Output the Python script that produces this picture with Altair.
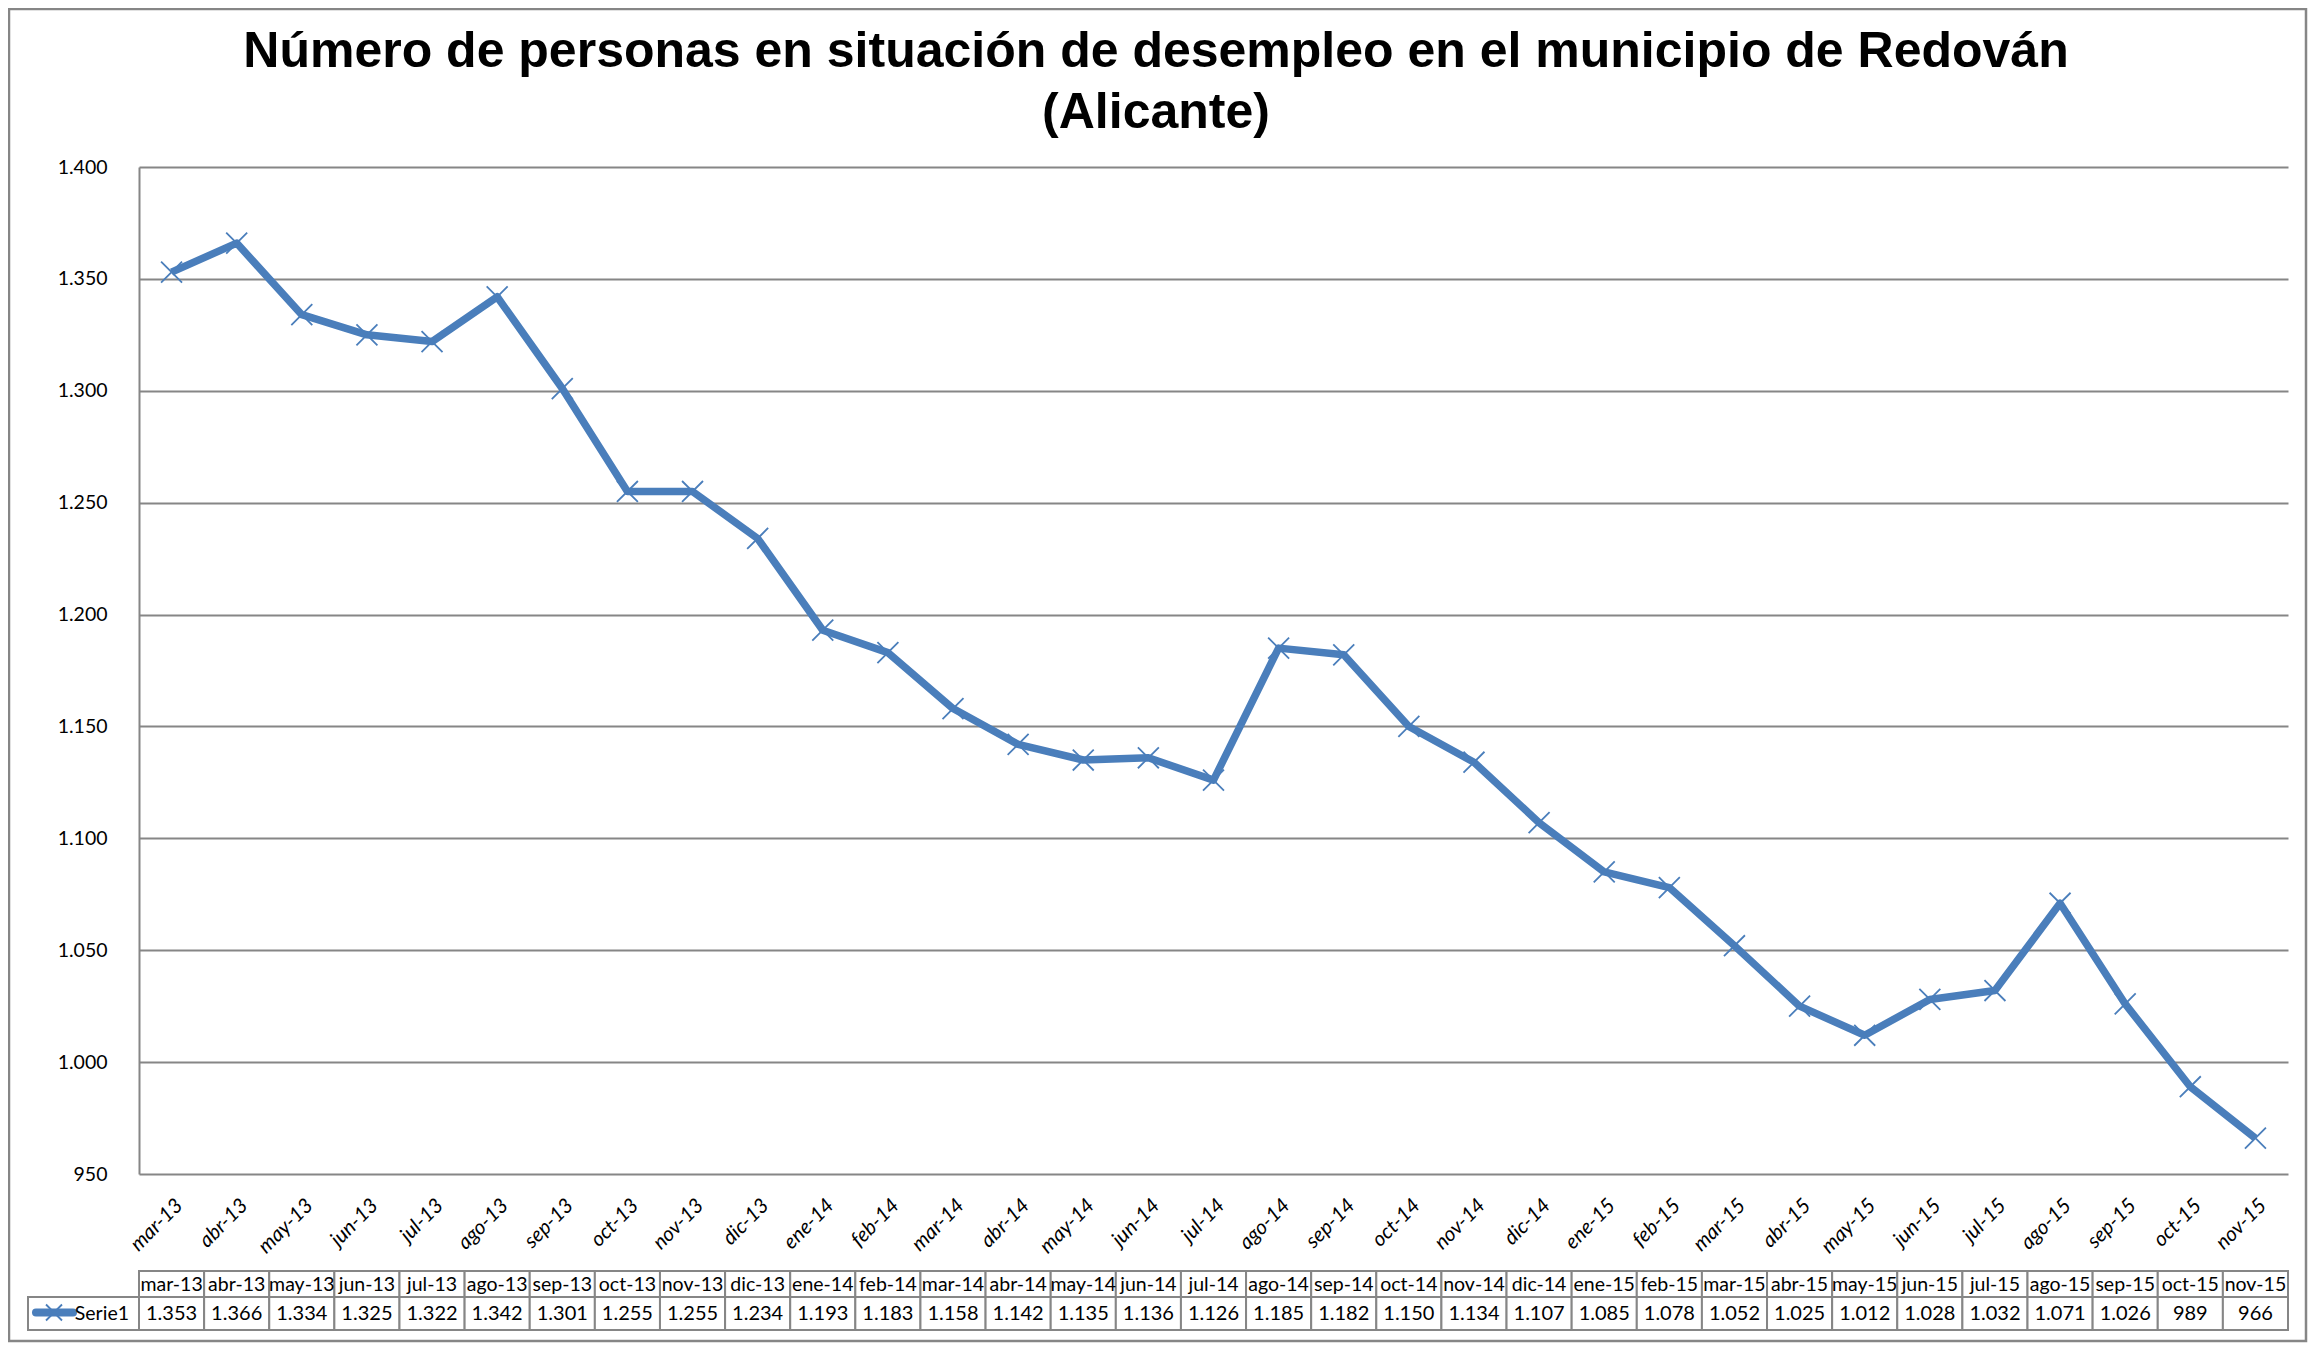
import altair as alt
import pandas as pd

months = [
    "mar-13", "abr-13", "may-13", "jun-13", "jul-13", "ago-13", "sep-13", "oct-13", "nov-13", "dic-13",
    "ene-14", "feb-14", "mar-14", "abr-14", "may-14", "jun-14", "jul-14", "ago-14", "sep-14", "oct-14",
    "nov-14", "dic-14",
    "ene-15", "feb-15", "mar-15", "abr-15", "may-15", "jun-15", "jul-15", "ago-15", "sep-15", "oct-15",
    "nov-15",
]
values = [
    1353, 1366, 1334, 1325, 1322, 1342, 1301, 1255, 1255, 1234,
    1193, 1183, 1158, 1142, 1135, 1136, 1126, 1185, 1182, 1150,
    1134, 1107,
    1085, 1078, 1052, 1025, 1012, 1028, 1032, 1071, 1026, 989,
    966,
]
y_ticks = [950, 1000, 1050, 1100, 1150, 1200, 1250, 1300, 1350, 1400]
series_name = "Serie1"
title_lines = [
    "Número de personas en situación de desempleo en el municipio de Redován",
    "(Alicante)",
]


def es_num(v):
    return f"{v:,}".replace(",", ".")


df = pd.DataFrame({"mes": months, "valor": values, "etiqueta": [es_num(v) for v in values]})
leg_df = pd.DataFrame({"serie": [series_name]})
one = pd.DataFrame({"k": [0]})

W, H = 2149, 1007
BLUE = "#4A7EBB"
GRAY = "#868686"
X_SHAPE = "M-1,-1L1,1M-1,1L1,-1"
FONT = "Lato"
FS = 19.5

x_enc = alt.X(
    "mes:N",
    sort=months,
    scale=alt.Scale(type="band", paddingInner=0, paddingOuter=0),
    axis=alt.Axis(
        title=None, labelAngle=-45, labelAlign="right", labelBaseline="middle",
        labelPadding=28, labelOffset=8, ticks=False, tickSize=0, domain=False,
        grid=False, labelFontStyle="italic", labelOverlap=False, labelFontSize=20.5,
    ),
)
y_enc = alt.Y(
    "valor:Q",
    scale=alt.Scale(domain=[950, 1400], nice=False, zero=False),
    axis=alt.Axis(
        title=None, values=y_ticks,
        labelExpr="replace(format(datum.value, ','), ',', '.')",
        ticks=False, tickSize=0, labelPadding=32, grid=True,
        gridColor=GRAY, gridWidth=2, domainColor=GRAY, domainWidth=2,
    ),
)

base = alt.Chart(df).encode(x=x_enc)

frame = alt.Chart(one).mark_rect(fillOpacity=0, stroke=GRAY, strokeWidth=2.5).encode(
    x=alt.value(-130), x2=alt.value(W + 18), y=alt.value(-158), y2=alt.value(H + 167)
)

header_cells = base.mark_rect(fill="white", stroke=GRAY, strokeWidth=2).encode(
    y=alt.value(1104), y2=alt.value(1130)
)
value_cells = base.mark_rect(fill="white", stroke=GRAY, strokeWidth=2).encode(
    y=alt.value(1130), y2=alt.value(1163)
)
header_text = base.mark_text(font=FONT, fontSize=FS, color="black").encode(
    y=alt.value(1117.5), text="mes:N"
)
value_text = base.mark_text(font=FONT, fontSize=FS + 0.5, color="black").encode(
    y=alt.value(1147), text="etiqueta:N"
)

line = base.mark_line(color=BLUE, strokeWidth=7.5, strokeJoin="round").encode(y=y_enc)
points = base.mark_point(
    shape=X_SHAPE, filled=False, size=440, strokeWidth=1.8, color=BLUE, opacity=1
).encode(y=y_enc)

legend_cell = alt.Chart(leg_df).mark_rect(fill="white", stroke=GRAY, strokeWidth=2).encode(
    x=alt.value(-111), x2=alt.value(0), y=alt.value(1130), y2=alt.value(1163)
)
legend_line = alt.Chart(leg_df).mark_rule(color=BLUE, strokeWidth=8, strokeCap="round").encode(
    x=alt.value(-103), x2=alt.value(-66), y=alt.value(1145.5)
)
legend_marker = alt.Chart(leg_df).mark_point(
    shape=X_SHAPE, filled=False, size=256, strokeWidth=1.8, color=BLUE, opacity=1
).encode(x=alt.value(-85), y=alt.value(1145.5))
legend_text = alt.Chart(leg_df).mark_text(
    align="right", font=FONT, fontSize=FS, color="black"
).encode(x=alt.value(-10), y=alt.value(1147), text="serie:N")

chart = alt.layer(
    frame, header_cells, value_cells, legend_cell, header_text, value_text,
    line, points, legend_line, legend_marker, legend_text,
).properties(
    width=W,
    height=H,
    title=alt.TitleParams(
        text=title_lines, font="Liberation Sans", fontSize=50, fontWeight="bold",
        color="black", lineHeight=61, anchor="middle", frame="group",
        dx=-57.5, dy=180, offset=0, baseline="bottom",
    ),
    autosize=alt.AutoSizeParams(type="none"),
    padding={"left": 131, "top": 159, "right": 20, "bottom": 170},
).configure_axis(
    labelFont=FONT, labelFontSize=FS, labelColor="black"
).configure_view(strokeWidth=0)

chart.save("out.html", embed_options={"renderer": "svg", "actions": False})
